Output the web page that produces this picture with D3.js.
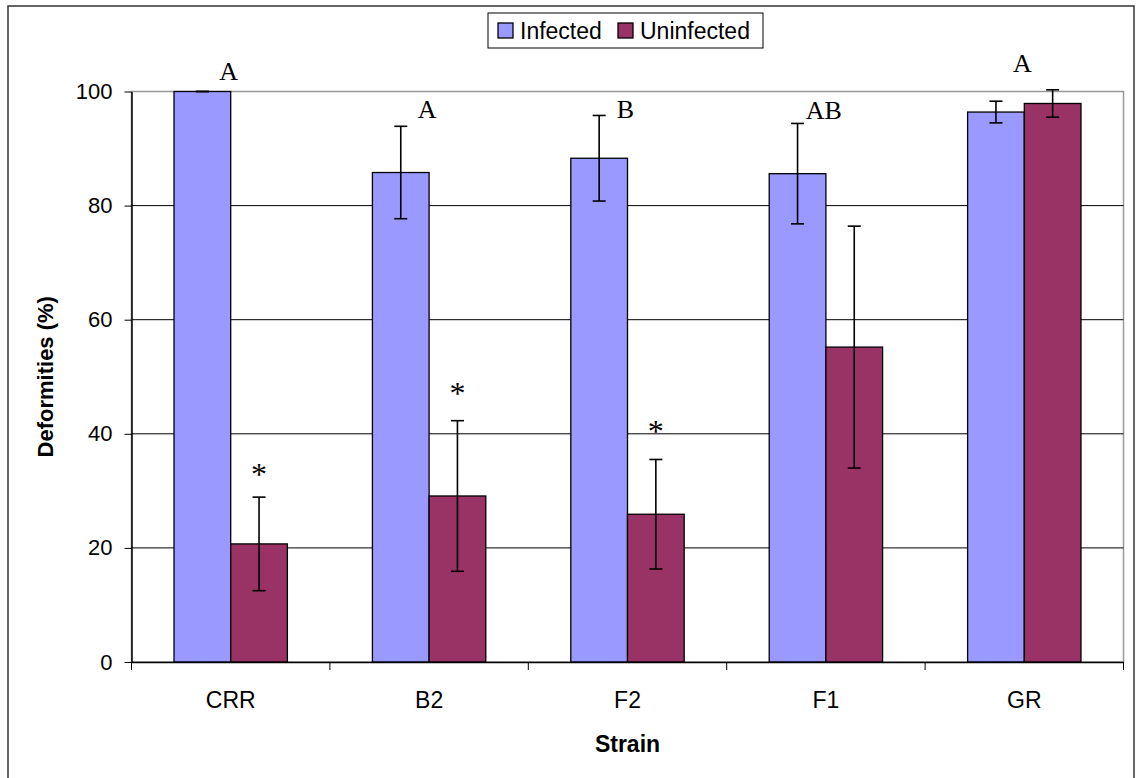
<!DOCTYPE html>
<html>
<head>
<meta charset="utf-8">
<script src="https://cdn.jsdelivr.net/npm/d3@7"></script>
<style>
  body { margin: 0; background: #fff; }
</style>
</head>
<body>
<div id="chart"></div>
<script>
// Data
const strains = ["CRR", "B2", "F2", "F1", "GR"];
const seriesNames = ["Infected", "Uninfected"];
const infected = [100, 85.8, 88.3, 85.6, 96.4];
const infectedErr = [0, 8.1, 7.5, 8.8, 1.9];
const uninfected = [20.7, 29.1, 25.9, 55.2, 97.9];
const uninfectedErr = [8.2, 13.2, 9.6, 21.2, 2.4];
const groupLetters = ["A", "A", "B", "AB", "A"];
const letterLevel = [102, 95.4, 95.4, 95.2, 103.5];
const starLevel = [31.0, 45.3, 38.6, null, null];
const yTicks = [0, 20, 40, 60, 80, 100];

const colors = { Infected: "#9999ff", Uninfected: "#993366" };

(function () {
    const W = 1139, H = 778;
    const margin = { top: 91.5, right: 15.5, bottom: 116, left: 131.5 };
    const width = W - margin.left - margin.right;
    const height = H - margin.top - margin.bottom;

    const root = d3.select("#chart")
      .append("svg")
        .attr("width", W)
        .attr("height", H)
        .style("font-family", "'Liberation Sans', Arial, sans-serif");

    // outer chart frame
    root.append("rect")
        .attr("x", 8).attr("y", 6)
        .attr("width", 1126).attr("height", 780)
        .attr("fill", "none")
        .attr("stroke", "#333")
        .attr("stroke-width", 1.5);

    const svg = root.append("g")
        .attr("transform", `translate(${margin.left},${margin.top})`);

    const x0 = d3.scaleBand().domain(strains).range([0, width]);
    const x1 = d3.scaleBand().domain(seriesNames).range([0, x0.bandwidth()]).paddingOuter(0.75);
    const y = d3.scaleLinear().domain([0, 100]).range([height, 0]);

    // plot area border (grey)
    svg.append("rect")
        .attr("width", width).attr("height", height)
        .attr("fill", "none")
        .attr("stroke", "#999")
        .attr("stroke-width", 1.5);

    // gridlines
    svg.append("g")
      .selectAll("line")
      .data(yTicks.filter(d => d > 0 && d < 100))
      .enter().append("line")
        .attr("x1", 0).attr("x2", width)
        .attr("y1", d => y(d)).attr("y2", d => y(d))
        .attr("stroke", "#000")
        .attr("stroke-width", 1);

    // bars
    const rows = strains.map((s, i) => [
        { strain: s, key: "Infected", v: infected[i], e: infectedErr[i] },
        { strain: s, key: "Uninfected", v: uninfected[i], e: uninfectedErr[i] }
    ]).flat();

    svg.append("g")
      .selectAll("rect")
      .data(rows)
      .enter().append("rect")
        .attr("x", d => x0(d.strain) + x1(d.key))
        .attr("y", d => y(d.v))
        .attr("width", x1.bandwidth())
        .attr("height", d => y(0) - y(d.v))
        .attr("fill", d => colors[d.key])
        .attr("stroke", "#000")
        .attr("stroke-width", 1.3);

    // error bars
    const eb = svg.append("g")
        .attr("stroke", "#000")
        .attr("stroke-width", 1.6);
    rows.forEach(d => {
        const cx = x0(d.strain) + x1(d.key) + x1.bandwidth() / 2;
        eb.append("line")
            .attr("x1", cx).attr("x2", cx)
            .attr("y1", y(d.v + d.e)).attr("y2", y(d.v - d.e));
        [d.v + d.e, d.v - d.e].forEach(v => {
            eb.append("line")
                .attr("x1", cx - 6.5).attr("x2", cx + 6.5)
                .attr("y1", y(v)).attr("y2", y(v));
        });
    });

    // axes
    const yAxis = svg.append("g")
        .call(d3.axisLeft(y).tickValues(yTicks).tickSize(7).tickPadding(12).tickSizeOuter(0));
    yAxis.select(".domain").attr("stroke", "#000").attr("stroke-width", 1.5);
    yAxis.selectAll(".tick line").attr("stroke", "#000").attr("stroke-width", 1);
    yAxis.selectAll("text")
        .style("font-size", "22px")
        .style("font-family", "'Liberation Sans', Arial, sans-serif")
        .attr("fill", "#000");

    const xAxis = svg.append("g")
        .attr("transform", `translate(0,${height})`)
        .call(d3.axisBottom(x0).tickSize(0).tickPadding(30));
    xAxis.select(".domain").attr("stroke", "#000").attr("stroke-width", 1.5);
    xAxis.selectAll("text")
        .style("font-size", "23px")
        .style("font-family", "'Liberation Sans', Arial, sans-serif")
        .attr("fill", "#000");

    // category separator ticks
    svg.append("g")
      .selectAll("line")
      .data(strains.map(s => x0(s)).concat([width]))
      .enter().append("line")
        .attr("x1", d => d).attr("x2", d => d)
        .attr("y1", height).attr("y2", height + 8)
        .attr("stroke", "#000")
        .attr("stroke-width", 1);

    // significance letters
    svg.append("g")
      .selectAll("text")
      .data(strains)
      .enter().append("text")
        .attr("x", s => x0(s) + x0.bandwidth() / 2 - 2)
        .attr("y", (s, i) => y(letterLevel[i]))
        .attr("text-anchor", "middle")
        .style("font-family", "'Liberation Serif', 'Times New Roman', serif")
        .style("font-size", "26px")
        .text((s, i) => groupLetters[i]);

    // asterisks over uninfected bars
    svg.append("g")
      .selectAll("text")
      .data(strains.filter((s, i) => starLevel[i] != null))
      .enter().append("text")
        .attr("x", s => x0(s) + x1("Uninfected") + x1.bandwidth() / 2)
        .attr("y", s => y(starLevel[strains.indexOf(s)]))
        .attr("text-anchor", "middle")
        .style("font-family", "'Liberation Serif', 'Times New Roman', serif")
        .style("font-size", "32px")
        .text("*");

    // axis titles
    root.append("text")
        .attr("x", margin.left + width / 2)
        .attr("y", 752)
        .attr("text-anchor", "middle")
        .style("font-size", "23px")
        .style("font-weight", "bold")
        .text("Strain");

    root.append("text")
        .attr("transform", `translate(53,${margin.top + height / 2}) rotate(-90)`)
        .attr("text-anchor", "middle")
        .style("font-size", "22px")
        .style("font-weight", "bold")
        .text("Deformities (%)");

    // legend
    const legend = root.append("g").attr("transform", "translate(488,13)");
    legend.append("rect")
        .attr("width", 275).attr("height", 35)
        .attr("fill", "#fff")
        .attr("stroke", "#000")
        .attr("stroke-width", 1);
    const legendX = [10, 130];
    seriesNames.forEach((name, i) => {
        legend.append("rect")
            .attr("x", legendX[i]).attr("y", 10)
            .attr("width", 15).attr("height", 15)
            .attr("fill", colors[name])
            .attr("stroke", "#000")
            .attr("stroke-width", 1.3);
        legend.append("text")
            .attr("x", legendX[i] + 22)
            .attr("y", 25.5)
            .style("font-size", "23px")
            .text(name);
    });
})();
</script>
</body>
</html>
